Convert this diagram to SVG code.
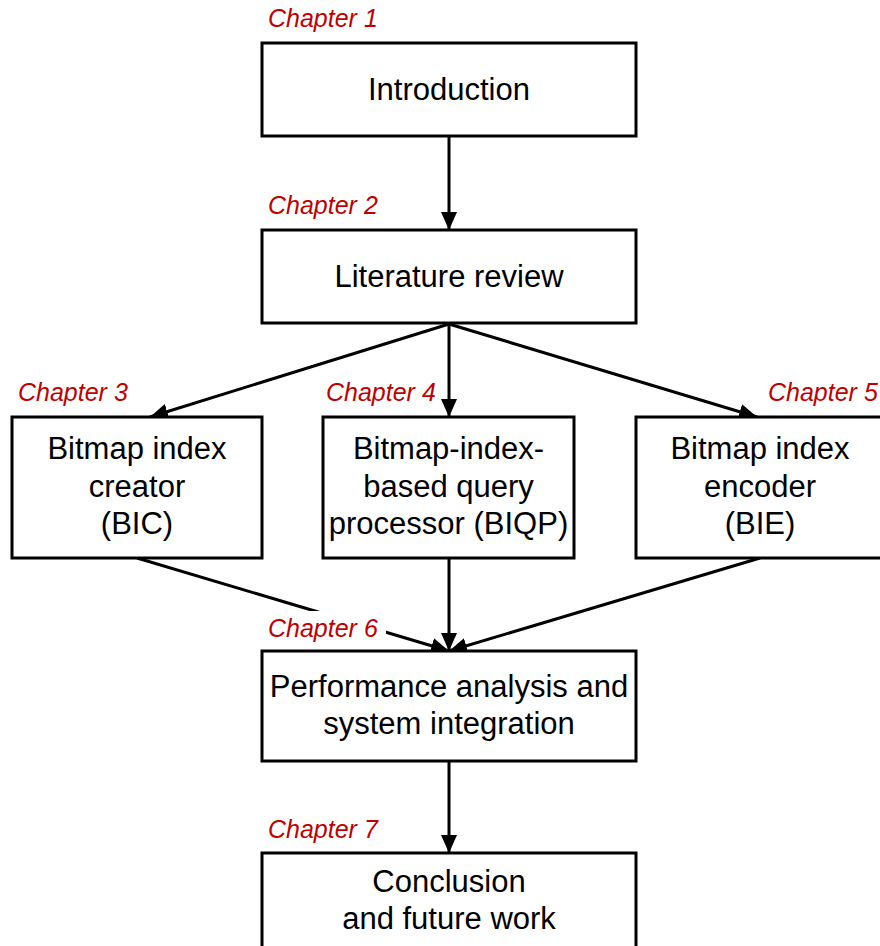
<svg xmlns="http://www.w3.org/2000/svg" width="880" height="946" viewBox="0 0 880 946">
  <style>
    .box { fill: #ffffff; stroke: #000000; stroke-width: 3; }
    .lbl { font-family: "Liberation Sans", Arial, sans-serif; font-size: 31px; fill: #000000; text-anchor: middle; }
    .ch { font-family: "Liberation Sans", Arial, sans-serif; font-size: 25px; font-style: italic; fill: #c00000; }
    .edge { stroke: #000000; stroke-width: 3; fill: none; marker-end: url(#arrow); }
  </style>
  <defs>
    <marker id="arrow" markerUnits="userSpaceOnUse" markerWidth="18" markerHeight="16" viewBox="0 0 18 16" refX="18" refY="8" orient="auto">
      <path d="M0,0 L18,8 L0,16 Z" fill="#000000"/>
    </marker>
  </defs>
  <rect width="880" height="946" fill="#ffffff"/>

  <!-- connectors -->
  <g id="connectors">
    <line class="edge" x1="449" y1="136" x2="449" y2="230"/>
    <line class="edge" x1="449" y1="324" x2="150" y2="417"/>
    <line class="edge" x1="449" y1="324" x2="449" y2="417"/>
    <line class="edge" x1="449" y1="324" x2="757" y2="417"/>
    <line class="edge" x1="137" y1="558" x2="449" y2="651"/>
    <line class="edge" x1="449" y1="558" x2="449" y2="651"/>
    <line class="edge" x1="760" y1="558" x2="449" y2="651"/>
    <line class="edge" x1="449" y1="761" x2="449" y2="853"/>
  </g>

  <g id="intro">
    <rect class="box" x="262" y="43" width="374" height="93"/>
    <text class="ch" x="268" y="27">Chapter 1</text>
    <text class="lbl" x="449" y="100">Introduction</text>
  </g>

  <g id="literature">
    <rect class="box" x="262" y="230" width="374" height="93"/>
    <text class="ch" x="268" y="214">Chapter 2</text>
    <text class="lbl" x="449" y="287">Literature review</text>
  </g>

  <g id="bic">
    <rect class="box" x="12" y="417" width="250" height="141"/>
    <text class="ch" x="18" y="401">Chapter 3</text>
    <text class="lbl" x="137" y="459">Bitmap index</text>
    <text class="lbl" x="137" y="497">creator</text>
    <text class="lbl" x="137" y="534">(BIC)</text>
  </g>

  <g id="biqp">
    <rect class="box" x="323" y="417" width="251" height="141"/>
    <text class="ch" x="326" y="401">Chapter 4</text>
    <text class="lbl" x="448.5" y="459">Bitmap-index-</text>
    <text class="lbl" x="448.5" y="497">based query</text>
    <text class="lbl" x="448.5" y="534">processor (BIQP)</text>
  </g>

  <g id="bie">
    <rect class="box" x="636" y="417" width="248" height="141"/>
    <text class="ch" x="768" y="401">Chapter 5</text>
    <text class="lbl" x="760" y="459">Bitmap index</text>
    <text class="lbl" x="760" y="497">encoder</text>
    <text class="lbl" x="760" y="534">(BIE)</text>
  </g>

  <g id="performance">
    <rect class="box" x="262" y="651" width="374" height="110"/>
    <rect x="265" y="611" width="121" height="34" fill="#ffffff"/>
    <text class="ch" x="268" y="637">Chapter 6</text>
    <text class="lbl" x="449" y="697">Performance analysis and</text>
    <text class="lbl" x="449" y="734">system integration</text>
  </g>

  <g id="conclusion">
    <rect class="box" x="262" y="853" width="374" height="110"/>
    <text class="ch" x="268" y="838">Chapter 7</text>
    <text class="lbl" x="449" y="892">Conclusion</text>
    <text class="lbl" x="449" y="929">and future work</text>
  </g>
</svg>
